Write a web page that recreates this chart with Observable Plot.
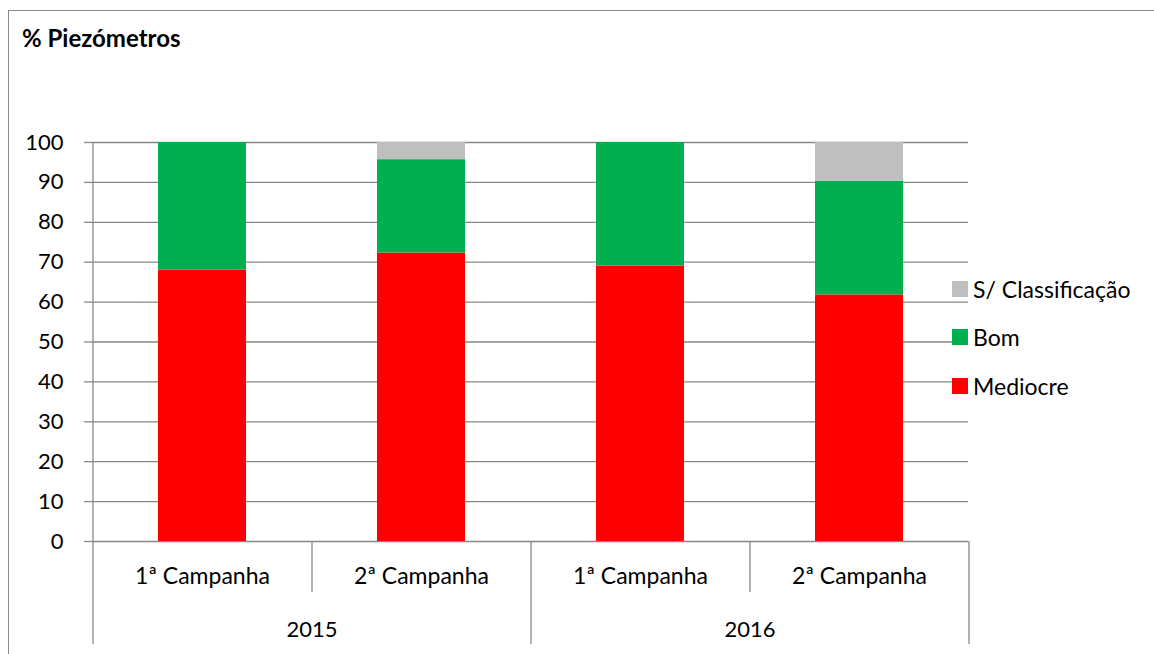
<!DOCTYPE html>
<html><head><meta charset="utf-8">
<script src="https://cdn.jsdelivr.net/npm/d3@7"></script>
<script src="https://cdn.jsdelivr.net/npm/@observablehq/plot@0.6"></script>
<style>
body{margin:0;background:#fff;font-family:Lato,"Open Sans",sans-serif;}
#wrap{position:relative;width:1154px;height:654px;overflow:hidden;background:#fff;}
#border{position:absolute;left:8px;top:10px;width:2000px;height:2000px;border-top:1px solid #898989;border-left:1px solid #898989;}
#title{position:absolute;left:22px;top:25px;font-size:24px;line-height:26px;font-weight:bold;color:#000;}
#chart{position:absolute;left:0;top:0;}
.leg{position:absolute;left:952px;height:26px;display:flex;align-items:center;font-size:23px;color:#000;white-space:nowrap;}
.leg span.sw{display:inline-block;width:16px;height:16px;margin-right:5px;}
</style></head>
<body>
<div id="wrap">
  <div id="border"></div>
  <div id="chart"></div>
  <div id="title">% Piezómetros</div>
  <div id="legend"></div>
</div>
<script>
// ---- data ----
const years = ["2015", "2015", "2016", "2016"];
const campaigns = ["1ª Campanha", "2ª Campanha", "1ª Campanha", "2ª Campanha"];
const mediocre = [68, 72.3, 69, 61.8];
const bom = [32, 23.4, 31, 28.5];
const semClassificacao = [0, 4.3, 0, 9.7];
const seriesNames = ["Mediocre", "Bom", "S/ Classificação"];
const seriesColors = ["#FF0000", "#00B050", "#BFBFBF"];
const yTicks = [0, 10, 20, 30, 40, 50, 60, 70, 80, 90, 100];
const legendOrder = ["S/ Classificação", "Bom", "Mediocre"];

// ---- build table ----
const keys = years.map((y, i) => y + "|" + i);
const seriesValues = [mediocre, bom, semClassificacao];
const rows = [];
seriesNames.forEach((s, si) => {
  keys.forEach((k, i) => rows.push({key: k, series: s, value: seriesValues[si][i]}));
});

const W = 1154, H = 654;
const mL = 92, mR = 186, mT = 142, mB = 113;
const plotH = H - mT - mB;
const step = (W - mL - mR) / keys.length;

// separators
const seps = keys.map((k, i) => ({key: k, yearStart: i === 0 || years[i] !== years[i - 1]}));
const yearGroups = [];
years.forEach((y, i) => { if (i === 0 || years[i] !== years[i - 1]) yearGroups.push({year: y, key: keys[i]}); });
const catLabels = keys.map((k, i) => ({key: k, label: campaigns[i]}));

const grey = "#878787";

const chart = Plot.plot({
  width: W, height: H,
  marginLeft: mL, marginRight: mR, marginTop: mT, marginBottom: mB,
  style: {fontFamily: "Lato, 'Open Sans', sans-serif", fontSize: "22px", color: "#000", background: "transparent"},
  x: {domain: keys, paddingInner: 0.6, paddingOuter: 0.3, axis: null},
  y: {domain: [0, 100], axis: null},
  color: {domain: seriesNames, range: seriesColors},
  marks: [
    Plot.gridY(yTicks, {stroke: grey, strokeOpacity: 1, strokeWidth: 1.3}),
    Plot.axisY({ticks: yTicks, tickSize: 8, tickPadding: 21, stroke: grey, strokeWidth: 1.3, fontSize: 22, label: null, fill: "#000"}),
    Plot.barY(rows, {x: "key", y: "value", fill: "series", order: seriesNames}),
    // y axis line
    Plot.ruleX([keys[0]], {x: d => d, dx: -step / 2, stroke: grey, strokeWidth: 1.3}),
    // category separators below axis
    Plot.ruleX(seps.filter(d => d.yearStart), {x: "key", dx: -step / 2, insetTop: plotH, insetBottom: -103, stroke: grey, strokeWidth: 1.3}),
    Plot.ruleX(seps.filter(d => !d.yearStart), {x: "key", dx: -step / 2, insetTop: plotH, insetBottom: -51, stroke: grey, strokeWidth: 1.3}),
    Plot.ruleX([keys[keys.length - 1]], {x: d => d, dx: step / 2, insetTop: plotH, insetBottom: -103, stroke: grey, strokeWidth: 1.3}),
    // category labels
    Plot.text(catLabels, {x: "key", text: "label", frameAnchor: "bottom", dy: 35, lineAnchor: "middle", fontSize: 23, fill: "#000"}),
    // year labels
    Plot.text(yearGroups, {x: "key", text: "year", frameAnchor: "bottom", dx: step / 2, dy: 88, lineAnchor: "middle", fontSize: 22, fill: "#000"})
  ]
});
document.getElementById("chart").appendChild(chart);

// legend
const legTops = {"S/ Classificação": 276, "Bom": 324, "Mediocre": 373};
const legend = document.getElementById("legend");
legendOrder.forEach(s => {
  const d = document.createElement("div");
  d.className = "leg";
  d.style.top = legTops[s] + "px";
  const sw = document.createElement("span");
  sw.className = "sw";
  sw.style.background = seriesColors[seriesNames.indexOf(s)];
  d.appendChild(sw);
  d.appendChild(document.createTextNode(s));
  legend.appendChild(d);
});
</script>
</body></html>
